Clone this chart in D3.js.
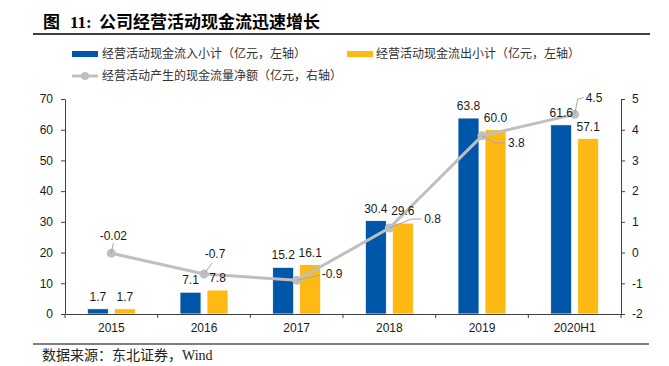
<!DOCTYPE html>
<html lang="zh">
<head>
  <meta charset="UTF-8">
  <title>公司经营活动现金流迅速增长</title>
  <script src="https://d3js.org/d3.v7.min.js"></script>
  <style>
    body { margin: 0; background: #fff; }
    svg text { font-family: "Liberation Sans", Arial, sans-serif; }
  </style>
</head>
<body>
  <script>
    // data
    var categories = ["2015", "2016", "2017", "2018", "2019", "2020H1"];
    var inflow = [1.7, 7.1, 15.2, 30.4, 63.8, 61.6];      // 亿元, left axis
    var outflow = [1.7, 7.8, 16.1, 29.6, 60.0, 57.1];     // 亿元, left axis
    var netFlow = [-0.02, -0.7, -0.9, 0.8, 3.8, 4.5];     // 亿元, right axis
    var netLabels = ["-0.02", "-0.7", "-0.9", "0.8", "3.8", "4.5"];
    var inflowLabels = ["1.7", "7.1", "15.2", "30.4", "63.8", "61.6"];
    var outflowLabels = ["1.7", "7.8", "16.1", "29.6", "60.0", "57.1"];
    var leftTicks = [0, 10, 20, 30, 40, 50, 60, 70];
    var rightTicks = [-2, -1, 0, 1, 2, 3, 4, 5];

    // label placement for the net-flow callouts (offset from the point)
    var callouts = [
      { tx: 2, ty: -17, anchor: "middle", leader: [[0, 0], [2, -10]] },
      { tx: 11, ty: -20, anchor: "middle", leader: [[0, 0], [8, -11]] },
      { tx: 25, ty: -6, anchor: "start", leader: [[0, 0], [23, -5]] },
      { tx: 35, ty: -9, anchor: "start", leader: [[0, 0], [22, -9], [32, -9]] },
      { tx: 26, ty: 7, anchor: "start", leader: [[0, 0], [12, 7], [23, 7]] },
      { tx: 11, ty: -17, anchor: "start", leader: [[0, 0], [3, -15], [9, -17]] }
    ];

    var W = 669, H = 366;
    var plotLeft = 65, plotRight = 621, plotTop = 99, plotBottom = 314;
    var barW = 21, barGap = 6;

    var svg = d3.select("body").append("svg")
      .attr("width", W)
      .attr("height", H);

    var x = d3.scaleBand().domain(categories).range([plotLeft, plotRight]);
    var yL = d3.scaleLinear().domain([0, 70]).range([plotBottom, plotTop]);
    var yR = d3.scaleLinear().domain([-2, 5]).range([plotBottom, plotTop]);

    // title + rule
    var title = svg.append("text")
      .attr("y", 28)
      .style("font-family", "'Liberation Serif', 'Noto Sans CJK SC', serif")
      .style("font-weight", "bold")
      .style("font-size", "17px")
      .attr("fill", "#000");
    title.append("tspan").attr("x", 43).text("图");
    title.append("tspan").attr("x", 70).text("11:");
    title.append("tspan").attr("x", 99).text("公司经营活动现金流迅速增长");
    svg.append("line")
      .attr("x1", 33).attr("x2", 650).attr("y1", 34).attr("y2", 34)
      .attr("stroke", "#000").attr("stroke-width", 1.6);

    // legend
    var legendFont = "'Noto Sans CJK SC', sans-serif";
    svg.append("rect").attr("x", 72).attr("y", 51).attr("width", 26).attr("height", 6).attr("fill", "#0056A8");
    svg.append("text").attr("x", 102).attr("y", 54).attr("dy", "0.35em")
      .style("font-family", legendFont).style("font-size", "12px").attr("fill", "#333")
      .text("经营活动现金流入小计（亿元，左轴）");
    svg.append("rect").attr("x", 347).attr("y", 51).attr("width", 26).attr("height", 6).attr("fill", "#FFB915");
    svg.append("text").attr("x", 376).attr("y", 54).attr("dy", "0.35em")
      .style("font-family", legendFont).style("font-size", "12px").attr("fill", "#333")
      .text("经营活动现金流出小计（亿元，左轴）");
    svg.append("line").attr("x1", 72).attr("x2", 98).attr("y1", 76).attr("y2", 76)
      .attr("stroke", "#BFBFBF").attr("stroke-width", 3);
    svg.append("circle").attr("cx", 85).attr("cy", 76).attr("r", 4).attr("fill", "#BFBFBF");
    svg.append("text").attr("x", 102).attr("y", 76).attr("dy", "0.35em")
      .style("font-family", legendFont).style("font-size", "12px").attr("fill", "#333")
      .text("经营活动产生的现金流量净额（亿元，右轴）");

    // bars
    var bars = svg.append("g");
    bars.selectAll(".in")
      .data(inflow)
      .enter().append("rect")
      .attr("x", function (d, i) { return x(categories[i]) + x.bandwidth() / 2 - barGap / 2 - barW; })
      .attr("y", function (d) { return yL(d); })
      .attr("width", barW)
      .attr("height", function (d) { return yL(0) - yL(d); })
      .attr("fill", "#0056A8")
      .attr("stroke", "#fff").attr("stroke-width", 0.8);
    bars.selectAll(".out")
      .data(outflow)
      .enter().append("rect")
      .attr("x", function (d, i) { return x(categories[i]) + x.bandwidth() / 2 + barGap / 2; })
      .attr("y", function (d) { return yL(d); })
      .attr("width", barW)
      .attr("height", function (d) { return yL(0) - yL(d); })
      .attr("fill", "#FFB915")
      .attr("stroke", "#fff").attr("stroke-width", 0.8);

    // axes
    var axisColor = "#404040";
    var gL = svg.append("g")
      .attr("transform", "translate(" + plotLeft + ",0)")
      .call(d3.axisLeft(yL).tickValues(leftTicks).tickSize(4).tickSizeOuter(0).tickPadding(8));
    var gR = svg.append("g")
      .attr("transform", "translate(" + plotRight + ",0)")
      .call(d3.axisRight(yR).tickValues(rightTicks).tickFormat(function (d) { return String(d); })
        .tickSize(4).tickSizeOuter(0).tickPadding(7));
    var gB = svg.append("g")
      .attr("transform", "translate(0," + plotBottom + ")")
      .call(d3.axisBottom(x).tickSize(0).tickSizeOuter(0).tickPadding(9));
    gB.selectAll(".boundary")
      .data(categories.concat(["end"]))
      .enter().append("line")
      .attr("x1", function (d, i) { return plotLeft + i * x.step(); })
      .attr("x2", function (d, i) { return plotLeft + i * x.step(); })
      .attr("y1", 0).attr("y2", 4)
      .attr("stroke", axisColor);
    [gL, gR, gB].forEach(function (g) {
      g.selectAll("path, line").attr("stroke", axisColor);
      g.selectAll("text")
        .style("font-size", "12px")
        .attr("fill", "#1a1a1a");
    });

    // net flow line
    var cx = function (i) { return x(categories[i]) + x.bandwidth() / 2; };
    var line = d3.line()
      .x(function (d, i) { return cx(i); })
      .y(function (d) { return yR(d); });
    svg.append("path")
      .datum(netFlow)
      .attr("fill", "none")
      .attr("stroke", "#BFBFBF")
      .attr("stroke-width", 3)
      .attr("d", line);
    svg.selectAll(".pt")
      .data(netFlow)
      .enter().append("circle")
      .attr("cx", function (d, i) { return cx(i); })
      .attr("cy", function (d) { return yR(d); })
      .attr("r", 4.5)
      .attr("fill", "#BFBFBF");

    // bar value labels
    var labelG = svg.append("g").style("font-size", "12px").attr("fill", "#1a1a1a").attr("text-anchor", "middle");
    labelG.selectAll(".lin")
      .data(inflow)
      .enter().append("text")
      .attr("x", function (d, i) { return cx(i) - barGap / 2 - barW / 2; })
      .attr("y", function (d) { return yL(d) - 8; })
      .text(function (d, i) { return inflowLabels[i]; });
    labelG.selectAll(".lout")
      .data(outflow)
      .enter().append("text")
      .attr("x", function (d, i) { return cx(i) + barGap / 2 + barW / 2; })
      .attr("y", function (d) { return yL(d) - 8; })
      .text(function (d, i) { return outflowLabels[i]; });

    // net flow callouts
    netFlow.forEach(function (v, i) {
      var px = cx(i), py = yR(v), c = callouts[i];
      svg.append("polyline")
        .attr("points", c.leader.map(function (p) { return (px + p[0]) + "," + (py + p[1]); }).join(" "))
        .attr("fill", "none")
        .attr("stroke", "#A6A6A6")
        .attr("stroke-width", 1);
      svg.append("text")
        .attr("x", px + c.tx)
        .attr("y", py + c.ty)
        .attr("dy", "0.35em")
        .attr("text-anchor", c.anchor)
        .style("font-size", "12px")
        .attr("fill", "#1a1a1a")
        .text(netLabels[i]);
    });

    // source rule + note
    svg.append("line")
      .attr("x1", 33).attr("x2", 649).attr("y1", 344).attr("y2", 344)
      .attr("stroke", "#000").attr("stroke-width", 1);
    svg.append("text")
      .attr("x", 42).attr("y", 355).attr("dy", "0.35em")
      .style("font-family", "'Liberation Serif', 'Noto Sans CJK SC', serif")
      .style("font-size", "14px")
      .attr("fill", "#222")
      .text("数据来源：东北证券，Wind");
  </script>
</body>
</html>
